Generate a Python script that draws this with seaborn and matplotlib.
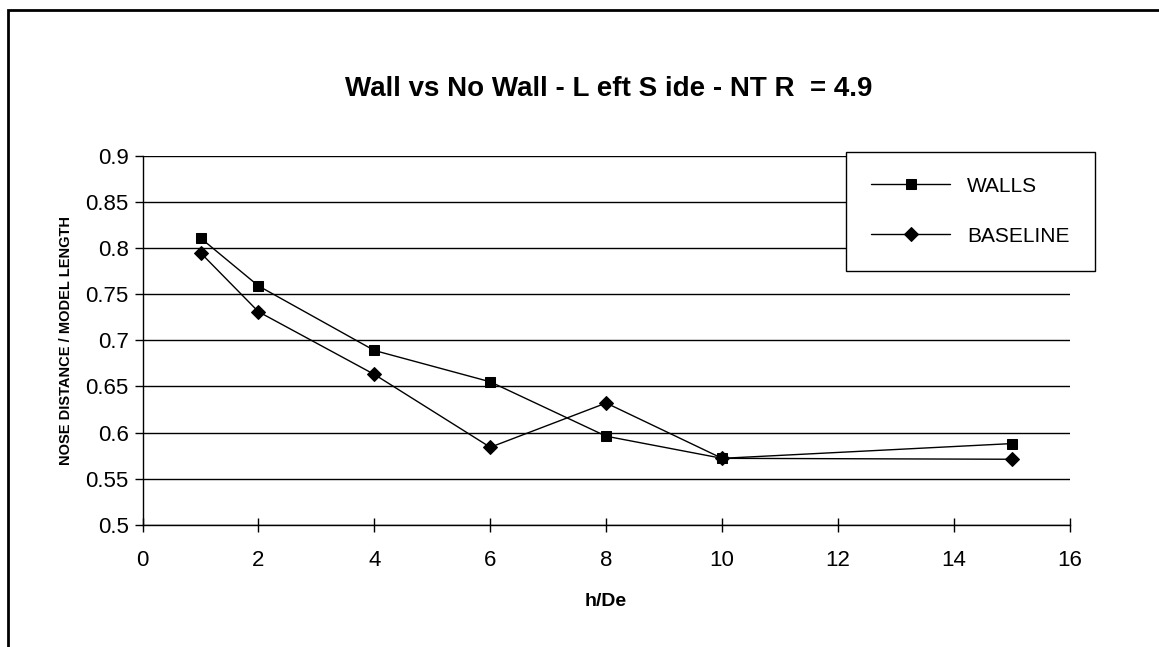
import matplotlib
matplotlib.use("Agg")
import matplotlib.pyplot as plt
import pandas as pd
import seaborn as sns
from matplotlib.patches import Rectangle

# values
h_de = [1, 2, 4, 6, 8, 10, 15]
walls = [0.811, 0.759, 0.689, 0.655, 0.596, 0.572, 0.588]
baseline = [0.795, 0.731, 0.663, 0.584, 0.632, 0.572, 0.571]
series_names = ["WALLS", "BASELINE"]
x_ticks = [0, 2, 4, 6, 8, 10, 12, 14, 16]
y_ticks = [0.5, 0.55, 0.6, 0.65, 0.7, 0.75, 0.8, 0.85, 0.9]

df = pd.DataFrame({
    "h/De": h_de * 2,
    "ratio": walls + baseline,
    "series": [series_names[0]] * len(h_de) + [series_names[1]] * len(h_de),
})

sns.set_style("white")
plt.rcParams['font.family'] = ['Liberation Sans', 'DejaVu Sans']
plt.rcParams['text.color'] = 'black'
plt.rcParams['axes.labelcolor'] = 'black'

fig = plt.figure(figsize=(11.59, 6.47), dpi=100)
ax = fig.add_axes([0.123, 0.189, 0.800, 0.570])

sns.lineplot(data=df, x="h/De", y="ratio", hue="series", style="series",
             markers={"WALLS": "s", "BASELINE": "D"}, dashes=False,
             palette={"WALLS": "black", "BASELINE": "black"},
             markersize=7, linewidth=1, markeredgecolor="black", ax=ax)

ax.set_xlim(0, 16)
ax.set_ylim(0.5, 0.9)
ax.set_xticks(x_ticks)
ax.set_yticks(y_ticks)
ax.set_xticklabels([str(t) for t in x_ticks])
ax.set_yticklabels([f"{t:g}" for t in y_ticks])
ax.yaxis.grid(True, color="black", linewidth=1)
ax.xaxis.grid(False)
ax.set_axisbelow(True)
for s in ["top", "right"]:
    ax.spines[s].set_visible(False)
for s in ["left", "bottom"]:
    ax.spines[s].set_color("black")
    ax.spines[s].set_linewidth(1)
ax.tick_params(axis="x", direction="inout", length=10, width=1, labelsize=16, pad=13,
               colors="black", bottom=True)
ax.tick_params(axis="y", direction="out", length=6, width=1, labelsize=16, pad=4,
               colors="black", left=True)

ax.set_xlabel("h/De", fontsize=14, fontweight="bold", labelpad=16)
ax.set_ylabel("NOSE DISTANCE / MODEL LENGTH", fontsize=10.5, fontweight="bold", labelpad=9)
fig.text(0.525, 0.862, "Wall vs No Wall - L eft S ide - NT R  = 4.9",
         ha="center", va="center", fontsize=20, fontweight="bold")

leg = ax.legend(loc="upper left", bbox_to_anchor=(0.759, 1.012), borderaxespad=0,
                fontsize=15, handlelength=3.8, handletextpad=0.8, labelspacing=1.5,
                borderpad=1.2, frameon=True, fancybox=False, framealpha=1)
leg.get_frame().set_edgecolor("black")
leg.get_frame().set_linewidth(1)

fig.patches.append(Rectangle((0.007, -0.01), 1.0, 0.995, transform=fig.transFigure,
                             fill=False, edgecolor="black", linewidth=2))

plt.savefig("out.png", dpi=100)
